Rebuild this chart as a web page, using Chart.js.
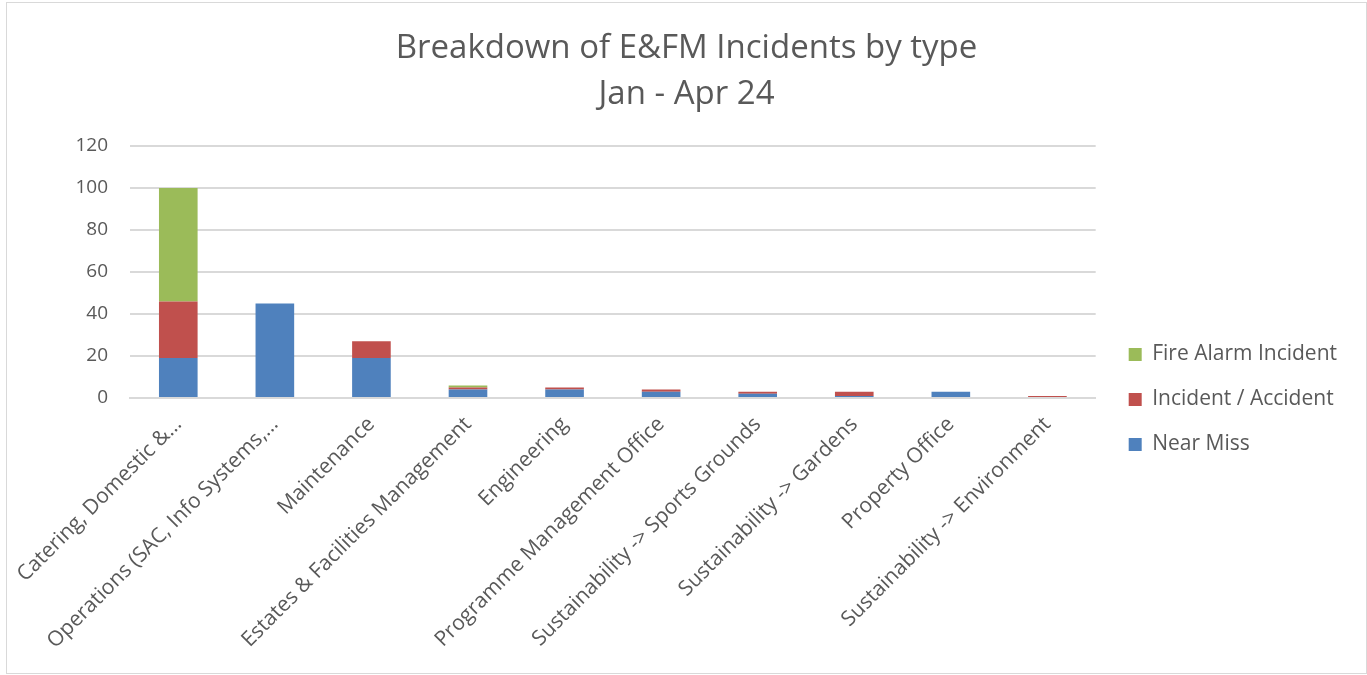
<!DOCTYPE html>
<html>
<head>
<meta charset="utf-8">
<script src="https://cdn.jsdelivr.net/npm/chart.js@4"></script>
<style>
  html, body { margin: 0; padding: 0; background: #fff; }
  #frame {
    position: absolute; left: 6px; top: 2px;
    width: 1359px; height: 670px;
    border: 1px solid #d9d9d9;
  }
  #chart { display: block; }
</style>
</head>
<body>
<div id="frame"><canvas id="chart" width="1359" height="670"></canvas></div>
<script>
// Departments along the x axis
const categories = [
    'Catering, Domestic &\u2026',
    'Operations (SAC, Info Systems,\u2026',
    'Maintenance',
    'Estates & Facilities Management',
    'Engineering',
    'Programme Management Office',
    'Sustainability -> Sports Grounds',
    'Sustainability -> Gardens',
    'Property Office',
    'Sustainability -> Environment'
];

// Incident counts per type
const nearMiss = [19, 45, 19, 4, 4, 3, 2, 1, 3, 0];
const incidentAccident = [27, 0, 8, 1, 1, 1, 1, 2, 0, 1];
const fireAlarm = [54, 0, 0, 1, 0, 0, 0, 0, 0, 0];

const yTicks = [0, 20, 40, 60, 80, 100, 120];

const textColor = '#595959';
const fontFamily = '"Open Sans", sans-serif';

// push the legend a little further away from the plot
const legendNudge = {
    id: 'legendNudge',
    afterLayout(chart) {
        chart.legend.left += 9;
        chart.legend.right += 9;
    }
};

const ctx = document.getElementById('chart').getContext('2d');
new Chart(ctx, {
    type: 'bar',
    data: {
        labels: categories,
        datasets: [
            { label: 'Near Miss', data: nearMiss, backgroundColor: '#4f81bd' },
            { label: 'Incident / Accident', data: incidentAccident, backgroundColor: '#c0504d' },
            { label: 'Fire Alarm Incident', data: fireAlarm, backgroundColor: '#9bbb59' }
        ]
    },
    plugins: [legendNudge],
    options: {
        responsive: false,
        animation: false,
        layout: {
            padding: { left: 28, right: 28, top: 23, bottom: 18 }
        },
        datasets: {
            bar: { categoryPercentage: 1.0, barPercentage: 0.4 }
        },
        plugins: {
            title: {
                display: true,
                text: ['Breakdown of E&FM Incidents by type', 'Jan - Apr 24'],
                color: textColor,
                font: { family: fontFamily, size: 33, weight: 'normal', lineHeight: 1.394 },
                padding: { top: 0, bottom: 28 }
            },
            legend: {
                position: 'right',
                reverse: true,
                title: {
                    display: true,
                    text: ' ',
                    font: { size: 10, lineHeight: 1 },
                    padding: { top: 0, bottom: 108 }
                },
                labels: {
                    color: textColor,
                    font: { family: fontFamily, size: 21 },
                    boxWidth: 13,
                    boxHeight: 13,
                    padding: 24
                }
            },
            tooltip: { enabled: false }
        },
        scales: {
            x: {
                stacked: true,
                grid: { display: false },
                border: { color: '#d9d9d9', width: 2 },
                afterFit: scale => { scale.height = 257; },
                ticks: {
                    color: textColor,
                    font: { family: fontFamily, size: 21 },
                    maxRotation: 45,
                    minRotation: 45,
                    autoSkip: false,
                    padding: 6
                }
            },
            y: {
                stacked: true,
                min: 0,
                max: 120,
                afterBuildTicks: axis => {
                    axis.ticks = yTicks.map(v => ({ value: v }));
                },
                afterFit: scale => { scale.width = 95; },
                grid: { color: '#d9d9d9', lineWidth: 2, drawTicks: false },
                border: { display: false },
                ticks: {
                    color: textColor,
                    font: { family: fontFamily, size: 19 },
                    padding: 22
                }
            }
        }
    }
});
</script>
</body>
</html>
